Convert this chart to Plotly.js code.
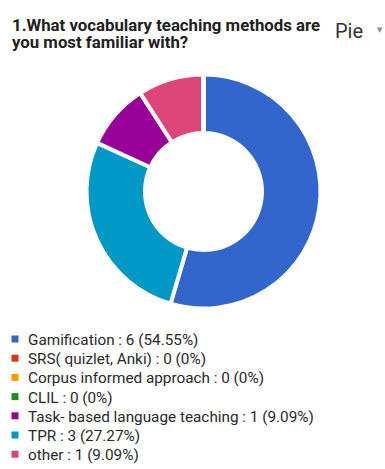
<!DOCTYPE html>
<html>
<head>
<meta charset="utf-8">
<script src="https://cdn.plot.ly/plotly-3.0.1.min.js"></script>
<style>
html,body{margin:0;padding:0;background:#fff;}
#chart{width:385px;height:469px;}
</style>
</head>
<body>
<div id="chart"></div>
<script>
// ---- data ----
const categories = ["Gamification", "SRS( quizlet, Anki)", "Corpus informed approach", "CLIL", "Task- based language teaching", "TPR", "other"];
const counts = [6, 0, 0, 0, 1, 3, 1];
const percentLabels = ["54.55%", "0%", "0%", "0%", "9.09%", "27.27%", "9.09%"];
const colors = ["#3366cc", "#dc3912", "#ff9900", "#109618", "#990099", "#0099c6", "#dd4477"];
const titleLines = ["1.What vocabulary teaching methods are", "you most familiar with?"];
const chartTypeLabel = "Pie";

// ---- layout helpers ----
const W = 385, H = 469;
const px = v => v / W;
const py = v => (H - v) / H;

const trace = {
  type: "pie",
  labels: categories,
  values: counts,
  marker: { colors: colors, line: { color: "#ffffff", width: 4 } },
  hole: 0.5,
  sort: true,
  direction: "clockwise",
  rotation: 0,
  textinfo: "none",
  hoverinfo: "label+value+percent",
  showlegend: false,
  domain: { x: [px(86), px(321)], y: [py(308.5), py(74.5)] }
};

const annotations = [];
const shapes = [];

titleLines.forEach((t, i) => {
  annotations.push({
    xref: "paper", yref: "paper",
    x: px(11), y: py(24.5 + i * 17.5),
    xanchor: "left", yanchor: "middle",
    borderpad: 0,
    text: "<b>" + t + "</b>",
    showarrow: false,
    font: { family: "Roboto, sans-serif", size: 16.8, color: "#212121" }
  });
});

annotations.push({
  xref: "paper", yref: "paper",
  x: px(333), y: py(31),
  xanchor: "left", yanchor: "middle",
  text: chartTypeLabel, showarrow: false,
  font: { family: "Roboto, sans-serif", size: 20, color: "#333333" }
});
annotations.push({
  xref: "paper", yref: "paper",
  x: px(380), y: py(30),
  xanchor: "center", yanchor: "middle",
  text: "▼", showarrow: false,
  font: { family: "DejaVu Sans, sans-serif", size: 7, color: "#8a8a8a" }
});

categories.forEach((c, i) => {
  const cy = 340 + i * 19.2;
  annotations.push({
    xref: "paper", yref: "paper",
    x: px(26), y: py(cy),
    xanchor: "left", yanchor: "middle",
    text: c + " : " + counts[i] + " (" + percentLabels[i] + ")",
    showarrow: false,
    font: { family: "Roboto, sans-serif", size: 15.3, color: "#2a2a2a" }
  });
  shapes.push({
    type: "rect", xref: "paper", yref: "paper",
    x0: px(11.5), x1: px(18.5), y0: py(cy - 1 + 3.5), y1: py(cy - 1 - 3.5),
    fillcolor: colors[i], line: { width: 0 }
  });
});

const layout = {
  width: W, height: H,
  margin: { l: 0, r: 0, t: 0, b: 0 },
  paper_bgcolor: "#ffffff",
  plot_bgcolor: "#ffffff",
  showlegend: false,
  annotations: annotations,
  shapes: shapes
};

Plotly.newPlot("chart", [trace], layout, { displayModeBar: false, staticPlot: true });
</script>
</body>
</html>
